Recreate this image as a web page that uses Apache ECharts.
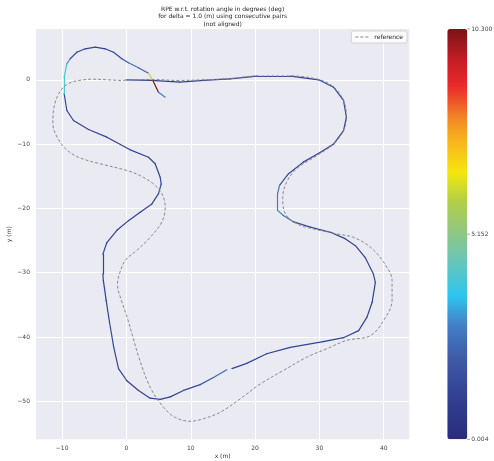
<!DOCTYPE html>
<html><head><meta charset="utf-8">
<script src="https://cdn.jsdelivr.net/npm/echarts@6/dist/echarts.min.js"></script>
<style>html,body{margin:0;padding:0;background:#fff}#c{width:494px;height:461px}</style>
</head><body><div id="c"></div>
<script>
// Estimated trajectory (x, y in m) and RPE value of the segment starting at each point (null = gap)
const estX = [0.0, 4.0, 8.3, 12.0, 16.1, 20.3, 25.5, 29.9, 32.2, 33.75, 34.2, 33.75, 32.2, 30.1, 27.5, 25.2, 23.8, 23.5, 23.5, 24.4, 26.0, 28.6, 31.7, 34.0, 35.6, 37.1, 38.4, 38.7, 38.2, 37.4, 36.1, 33.75, 30.6, 25.46, 21.8, 18.7, 16.4, null, 15.6, 13.53, 11.46, 8.87, 6.8, 5.24, 3.68, 1.87, 0.06, -1.24, -2.0, -2.64, -3.16, -3.6, -3.67, -3.67, -3.05, -1.49, 0.31, 2.13, 3.95, 4.98, 5.4, 5.24, 4.46, 3.42, 0.5, -3.05, -5.9, -8.24, -9.27, -9.69, -9.69, -9.27, -8.76, -7.72, -6.42, -4.87, -3.31, -2.02, -0.72, 0.31, 1.87, 3.42, 4.1, 4.98, 6.02];
const estY = [0.0, -0.1, -0.35, -0.1, 0.15, 0.56, 0.56, 0.0, -1.15, -3.2, -5.8, -7.9, -10.0, -11.3, -12.8, -14.6, -16.4, -17.7, -20.3, -21.1, -22.1, -22.9, -23.7, -24.7, -25.8, -27.6, -30.2, -31.5, -34.6, -36.9, -39.0, -40.1, -40.7, -41.6, -42.6, -44.1, -44.9, null, -45.1, -46.3, -47.4, -48.3, -49.3, -49.7, -49.5, -48.3, -46.8, -44.9, -41.5, -37.7, -34.3, -31.2, -30.2, -27.1, -25.3, -23.4, -21.9, -20.6, -19.3, -17.7, -16.2, -15.15, -13.06, -12.04, -10.85, -8.92, -7.73, -6.33, -4.77, -2.18, 0.4, 2.49, 3.27, 4.29, 4.82, 5.07, 4.82, 4.29, 3.27, 2.64, 1.87, 1.03, -0.1, -1.93, -2.7];
const rpe = [1.0, 0.9, 1.1, 1.0, 1.2, 1.1, 1.0, 1.2, 1.3, 1.2, 1.0, 1.3, 1.4, 1.2, 1.1, 1.5, 2.6, 2.8, 2.9, 2.4, 1.4, 1.2, 1.1, 1.2, 1.1, 1.3, 1.2, 1.1, 1.0, 1.2, 1.3, 1.1, 1.2, 1.0, 1.2, 1.2, 1.3, null, 2.4, 2.0, 1.4, 1.2, 1.1, 1.3, 1.2, 1.0, 1.1, 1.2, 1.3, 1.1, 1.0, 1.2, 1.1, 1.3, 1.2, 1.0, 1.1, 1.2, 1.3, 1.4, 1.2, 1.1, 1.3, 1.2, 1.1, 1.3, 1.2, 1.1, 1.4, 4.2, 4.0, 3.0, 1.5, 1.3, 1.2, 1.1, 1.2, 1.4, 2.0, 2.6, 2.2, 6.2, 10.3, 2.8, 2.8];
// Reference trajectory
const refX = [0, 4, 8, 12, 16.1, 20.3, 25.5, 29.9, 32.2, 33.75, 34.2, 33.75, 32.2, 29.6, 26.5, 24.9, 24.3, 24.7, 26.5, 29.1, 32.7, 35.3, 37.9, 40.0, 41.3, 41.3, 40.0, 37.9, 34.3, 31.2, 28.1, 24.4, 20.8, 17.7, 14.57, 11.97, 9.9, 7.57, 5.75, 3.68, 1.9, 1.0, 0.0, -0.8, -1.4, -1.1, -0.2, 1.62, 3.68, 5.5, 6.02, 5.5, 4.2, 2.13, 0.06, -4.09, -6.2, -8.0, -9.5, -10.8, -11.45, -11.35, -10.8, -9.8, -8.5, -6.7, -5.1, -3.0, -0.5, 0];
const refY = [0, 0.05, -0.1, 0.0, 0.2, 0.6, 0.6, 0.05, -1.1, -3.2, -5.8, -7.9, -10.0, -11.8, -13.8, -15.9, -18.3, -20.8, -22.4, -23.2, -23.95, -24.5, -26.0, -28.4, -31.2, -34.3, -37.4, -39.8, -40.5, -41.8, -43.1, -45.2, -47.3, -49.6, -51.7, -52.7, -53.1, -52.5, -50.9, -47.8, -43.1, -40.0, -36.6, -34.3, -31.8, -30.2, -28.1, -26.5, -24.5, -22.1, -19.8, -17.7, -16.2, -14.9, -14.1, -13.06, -12.5, -11.8, -10.7, -8.9, -6.85, -4.77, -2.7, -1.15, -0.37, 0, 0.1, 0, -0.1, 0];
const xTicks = [-10, 0, 10, 20, 30, 40];
const yTicks = [0, -10, -20, -30, -40, -50];
const cbMin = 0.004, cbMax = 10.3;
const cbTicks = [0.004, 5.152, 10.300];
const cbLabels = ['0.004', '5.152', '10.300'];

const stops = [[0,'#2a2c7c'],[0.1,'#323f92'],[0.2,'#3f5ba8'],[0.28,'#4480c8'],[0.35,'#2ec5ef'],[0.45,'#72c6ac'],[0.52,'#98c778'],[0.58,'#b1cf48'],[0.65,'#f4e70f'],[0.72,'#f8b91b'],[0.78,'#f28a25'],[0.86,'#ea2a2a'],[0.92,'#c81e26'],[1,'#7a1416']];
function hex(c){return [parseInt(c.substr(1,2),16),parseInt(c.substr(3,2),16),parseInt(c.substr(5,2),16)];}
function cmap(t){
  t = Math.max(0, Math.min(1, t));
  for (let i = 0; i < stops.length - 1; i++) {
    const a = stops[i], b = stops[i+1];
    if (t <= b[0]) {
      const f = (t - a[0]) / (b[0] - a[0]);
      const ca = hex(a[1]), cb = hex(b[1]);
      return 'rgb(' + ca.map((v, k) => Math.round(v + (cb[k] - v) * f)).join(',') + ')';
    }
  }
  return stops[stops.length-1][1];
}
const barColors = [];
for (let i = 0; i <= 60; i++) barColors.push(cmap(i / 60));

const segs = [];
for (let i = 0; i < estX.length - 1; i++) {
  if (estX[i] == null || estX[i+1] == null) continue;
  segs.push({
    coords: [[estX[i], estY[i]], [estX[i+1], estY[i+1]]],
    lineStyle: { color: cmap((rpe[i] - cbMin) / (cbMax - cbMin)) }
  });
}
const refData = refX.map((x, i) => [x, refY[i]]);

const FONT = 'DejaVu Sans';
const minus = v => (v < 0 ? '\u2212' + (-v) : String(v));
const chart = echarts.init(document.getElementById('c'), null, { renderer: 'canvas' });

const gTop = 29, gBottom = 439.3, gLeft = 36, gRight = 409.3, cbX = 447.3, cbW = 20;
const graphics = [{
  type: 'text', silent: true,
  x: (gLeft + gRight) / 2, y: 5.5,
  style: { text: 'RPE w.r.t. rotation angle in degrees (deg)\nfor delta = 1.0 (m) using consecutive pairs\n(not aligned)', fill: '#262626', font: '6px "DejaVu Sans"', align: 'center', verticalAlign: 'top', lineHeight: 7.4 }
}];
cbTicks.forEach((v, i) => {
  const y = gBottom - (v - cbMin) / (cbMax - cbMin) * (gBottom - gTop);
  graphics.push({ type: 'line', silent: true, shape: { x1: cbX + cbW, y1: y, x2: cbX + cbW + 2.5, y2: y }, style: { stroke: '#555', lineWidth: 0.6 } });
  graphics.push({ type: 'text', silent: true, x: cbX + cbW + 4, y: y, style: { text: cbLabels[i], fill: '#444', font: '6px "DejaVu Sans"', align: 'left', verticalAlign: 'middle' } });
});

chart.setOption({
  animation: false,
  backgroundColor: '#ffffff',
  textStyle: { fontFamily: FONT },
  grid: { left: gLeft, top: gTop, right: 494 - gRight, bottom: 461 - gBottom, show: true, backgroundColor: '#eaeaf2', borderWidth: 0, containLabel: false, outerBoundsMode: 'none' },
  xAxis: {
    type: 'value', min: -14.07, max: 43.98,
    name: 'x (m)', nameLocation: 'middle', nameGap: 14, nameMoveOverlap: false, nameTextStyle: { fontSize: 6, color: '#333', fontFamily: FONT },
    axisLine: { show: false },
    axisTick: { show: false, customValues: xTicks },
    axisLabel: { customValues: xTicks, formatter: minus, fontSize: 6, color: '#444', margin: 6, fontFamily: FONT },
    splitLine: { show: true, lineStyle: { color: '#ffffff', width: 1 } }
  },
  yAxis: {
    type: 'value', min: -55.9, max: 7.9,
    name: 'y (m)', nameLocation: 'middle', nameGap: 24, nameMoveOverlap: false, nameTextStyle: { fontSize: 6, color: '#333', fontFamily: FONT },
    axisLine: { show: false },
    axisTick: { show: false, customValues: yTicks },
    axisLabel: { customValues: yTicks, formatter: minus, fontSize: 6, color: '#444', margin: 6, fontFamily: FONT },
    splitLine: { show: true, lineStyle: { color: '#ffffff', width: 1 } }
  },
  legend: {
    data: [{ name: 'reference', icon: 'path://M0,0H3V1H0Z M5,0H8V1H5Z M10,0H13V1H10Z' }],
    right: 87, top: 31, itemWidth: 13, itemHeight: 1.1, itemGap: 4, padding: [3, 4],
    itemStyle: { color: '#888888' },
    backgroundColor: 'rgba(255,255,255,0.8)', borderColor: '#cccccc', borderWidth: 0.8, borderRadius: 2,
    textStyle: { fontSize: 6, color: '#262626', fontFamily: FONT, padding: [0, 0, 0, 1] }
  },
  visualMap: {
    type: 'continuous', min: cbMin, max: cbMax, seriesIndex: 2, left: cbX, top: gTop,
    itemWidth: cbW, itemHeight: gBottom - gTop, padding: 0, calculable: false, hoverLink: false,
    text: null, inRange: { color: barColors }, textStyle: { fontSize: 0 }
  },
  graphic: graphics,
  series: [
    {
      name: 'reference', type: 'line', data: refData, symbol: 'none', showSymbol: false, smooth: 0.35, z: 3,
      itemStyle: { color: '#888888' },
      lineStyle: { color: '#888888', width: 1, type: [3, 2] }
    },
    {
      name: 'estimate', type: 'lines', coordinateSystem: 'cartesian2d', data: segs, z: 2,
      lineStyle: { width: 1.2, opacity: 1, cap: 'round' }
    },
    { name: 'cbar', type: 'scatter', data: [] }
  ]
});
</script>
</body></html>
